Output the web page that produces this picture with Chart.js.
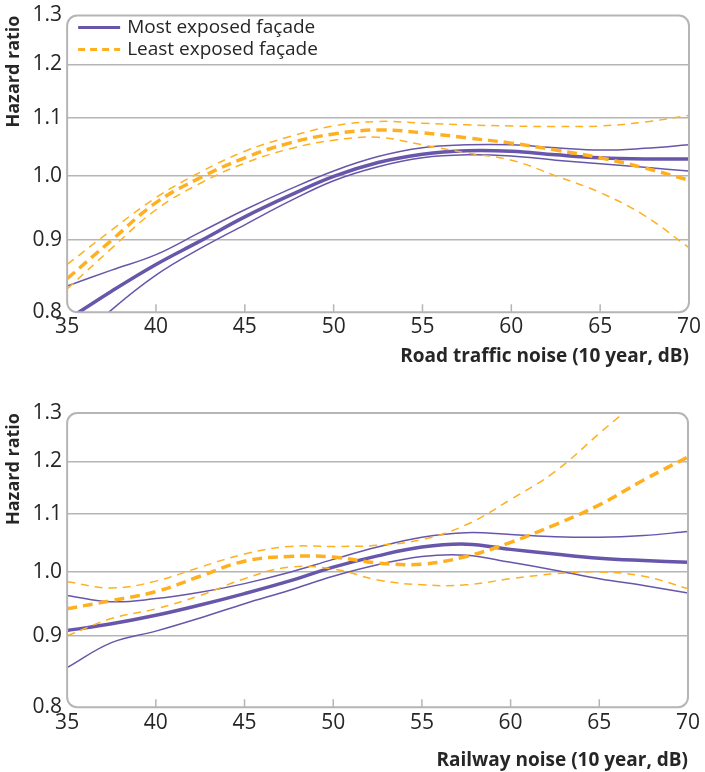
<!DOCTYPE html>
<html>
<head>
<meta charset="utf-8">
<script src="https://cdn.jsdelivr.net/npm/chart.js@4"></script>
<style>
  body { margin: 0; background: #fff; }
  .chart-box { position: relative; width: 705px; }
  #road-box { height: 375px; }
  #rail-box { height: 397px; }
</style>
</head>
<body>
<div class="chart-box" id="road-box"><canvas id="roadChart"></canvas></div>
<div class="chart-box" id="rail-box"><canvas id="railChart"></canvas></div>
<script>
const xValues = [35, 37.5, 40, 42.5, 45, 47.5, 50, 52.5, 55, 57.5, 60, 62.5, 65, 67.5, 70];
const xTicks = [35, 40, 45, 50, 55, 60, 65, 70];
const yTicks = [0.8, 0.9, 1.0, 1.1, 1.2, 1.3];

// road traffic noise
const roadMost = [0.79, 0.828, 0.865, 0.899, 0.935, 0.968, 0.999, 1.022, 1.036, 1.042, 1.041, 1.035, 1.030, 1.028, 1.028];
const roadMostUpper = [0.835, 0.857, 0.879, 0.912, 0.946, 0.978, 1.008, 1.032, 1.047, 1.052, 1.052, 1.047, 1.043, 1.046, 1.052];
const roadMostLower = [0.75, 0.803, 0.85, 0.888, 0.923, 0.959, 0.992, 1.015, 1.03, 1.035, 1.033, 1.026, 1.02, 1.014, 1.008];
const roadLeast = [0.845, 0.9, 0.957, 0.997, 1.03, 1.055, 1.071, 1.078, 1.073, 1.064, 1.055, 1.043, 1.03, 1.013, 0.993];
const roadLeastUpper = [0.865, 0.915, 0.965, 1.006, 1.041, 1.066, 1.085, 1.093, 1.09, 1.087, 1.085, 1.084, 1.085, 1.092, 1.104];
const roadLeastLower = [0.831, 0.888, 0.946, 0.988, 1.021, 1.045, 1.06, 1.065, 1.052, 1.038, 1.026, 1.0, 0.973, 0.937, 0.889];

// railway noise
const railMost = [0.908, 0.918, 0.931, 0.947, 0.965, 0.985, 1.008, 1.027, 1.042, 1.047, 1.038, 1.03, 1.023, 1.019, 1.016];
const railMostUpper = [0.962, 0.952, 0.957, 0.967, 0.981, 0.999, 1.021, 1.042, 1.059, 1.067, 1.064, 1.06, 1.059, 1.062, 1.069];
const railMostLower = [0.854, 0.89, 0.907, 0.927, 0.949, 0.97, 0.993, 1.012, 1.026, 1.028, 1.016, 1.003, 0.989, 0.978, 0.966];
const railLeast = [0.941, 0.954, 0.968, 0.993, 1.018, 1.026, 1.025, 1.015, 1.013, 1.026, 1.05, 1.081, 1.117, 1.164, 1.209];
const railLeastUpper = [0.984, 0.974, 0.985, 1.008, 1.03, 1.043, 1.043, 1.045, 1.055, 1.081, 1.127, 1.18, 1.257, 1.34, 1.45];
const railLeastLower = [0.9, 0.926, 0.941, 0.962, 0.989, 1.008, 1.005, 0.987, 0.979, 0.979, 0.989, 0.997, 1.0, 0.993, 0.973];

const PURPLE = '#6856ab';
const ORANGE = '#ffb021';
const GRID = '#b5b5b5';
const TEXT = '#262626';
const FONT = '"Open Sans", sans-serif';

const toPoints = (ys) => ys.map((y, i) => ({ x: xValues[i], y: y }));

const line = (label, ys, color, width, dash) => ({
  label: label,
  data: toPoints(ys),
  borderColor: color,
  borderWidth: width,
  borderDash: dash,
  pointRadius: 0,
  tension: 0.4,
  fill: false,
});

// rounded frame and inward x tick marks
const framePlugin = {
  id: 'frame',
  afterDraw(chart) {
    const { ctx, chartArea } = chart;
    const { left, top, right, bottom } = chartArea;
    const r = 10;
    ctx.save();
    ctx.strokeStyle = GRID;
    ctx.lineWidth = 2;
    ctx.beginPath();
    ctx.moveTo(left + r, top);
    ctx.arcTo(right, top, right, bottom, r);
    ctx.arcTo(right, bottom, left, bottom, r);
    ctx.arcTo(left, bottom, left, top, r);
    ctx.arcTo(left, top, right, top, r);
    ctx.closePath();
    ctx.stroke();
    ctx.lineWidth = 1.5;
    ctx.beginPath();
    xTicks.slice(1, -1).forEach((v) => {
      const px = chart.scales.x.getPixelForValue(v);
      ctx.moveTo(px, bottom);
      ctx.lineTo(px, bottom - 8);
    });
    ctx.stroke();
    ctx.restore();
  },
};

const legendPlugin = {
  id: 'insideLegend',
  afterDraw(chart) {
    if (!chart.options.plugins.insideLegend.show) return;
    const { ctx, chartArea } = chart;
    const x0 = chartArea.left + 11;
    const rows = [
      { text: 'Most exposed façade', color: PURPLE, dash: [] },
      { text: 'Least exposed façade', color: ORANGE, dash: [7, 5] },
    ];
    ctx.save();
    ctx.font = '19px ' + FONT;
    ctx.textBaseline = 'middle';
    rows.forEach((row, i) => {
      const y = chartArea.top + 12 + i * 22;
      ctx.strokeStyle = row.color;
      ctx.lineWidth = 3;
      ctx.setLineDash(row.dash);
      ctx.beginPath();
      ctx.moveTo(x0, y);
      ctx.lineTo(x0 + 42, y);
      ctx.stroke();
      ctx.fillStyle = TEXT;
      ctx.fillText(row.text, x0 + 49, y);
    });
    ctx.restore();
  },
};

function makeChart(canvasId, xTitle, most, mostUp, mostLow, least, leastUp, leastLow, showLegend, pad) {
  return new Chart(document.getElementById(canvasId), {
    type: 'line',
    data: {
      datasets: [
        line('Least upper', leastUp, ORANGE, 1.5, [8, 6]),
        line('Least lower', leastLow, ORANGE, 1.5, [8, 6]),
        line('Least exposed façade', least, ORANGE, 3.5, [10, 6]),
        line('Most upper', mostUp, PURPLE, 1.5, []),
        line('Most lower', mostLow, PURPLE, 1.5, []),
        line('Most exposed façade', most, PURPLE, 3.5, []),
      ],
    },
    options: {
      responsive: true,
      maintainAspectRatio: false,
      animation: false,
      layout: { padding: { top: pad.top, right: 0, left: 3, bottom: 0 } },
      plugins: {
        legend: { display: false },
        tooltip: { enabled: false },
        insideLegend: { show: showLegend },
      },
      scales: {
        x: {
          type: 'linear',
          min: 35,
          max: 70,
          afterBuildTicks: (scale) => { scale.ticks = xTicks.map((v) => ({ value: v })); },
          ticks: { color: TEXT, font: { family: FONT, size: 21, lineHeight: 1 }, padding: pad.tick, maxRotation: 0 },
          grid: { display: false, drawTicks: false },
          border: { display: false },
          title: {
            display: true,
            text: xTitle,
            align: 'end',
            color: TEXT,
            font: { family: FONT, size: 19, weight: 'bold' },
            padding: { top: pad.titleTop, bottom: pad.titleBottom },
          },
        },
        y: {
          type: 'logarithmic',
          min: 0.8,
          max: 1.3,
          afterBuildTicks: (scale) => { scale.ticks = yTicks.map((v) => ({ value: v })); },
          ticks: {
            color: TEXT,
            font: { family: FONT, size: 21, lineHeight: 1 },
            padding: 5,
            callback: (v) => Number(v).toFixed(1),
          },
          grid: {
            drawTicks: false,
            lineWidth: 1.5,
            color: (c) => (c.tick && (c.tick.value === 0.8 || c.tick.value === 1.3) ? 'rgba(0,0,0,0)' : GRID),
          },
          border: { display: false },
          title: {
            display: true,
            text: 'Hazard ratio',
            align: 'end',
            color: TEXT,
            font: { family: FONT, size: 18, weight: 'bold' },
            padding: { top: 0, bottom: 3 },
          },
        },
      },
    },
    plugins: [framePlugin, legendPlugin],
  });
}

makeChart('roadChart', 'Road traffic noise (10 year, dB)',
  roadMost, roadMostUpper, roadMostLower, roadLeast, roadLeastUpper, roadLeastLower, true,
  { top: -2, tick: 4, titleTop: 4, titleBottom: 7 });
makeChart('railChart', 'Railway noise (10 year, dB)',
  railMost, railMostUpper, railMostLower, railLeast, railLeastUpper, railLeastLower, false,
  { top: 38, tick: 5, titleTop: 11, titleBottom: 0 });
</script>
</body>
</html>
